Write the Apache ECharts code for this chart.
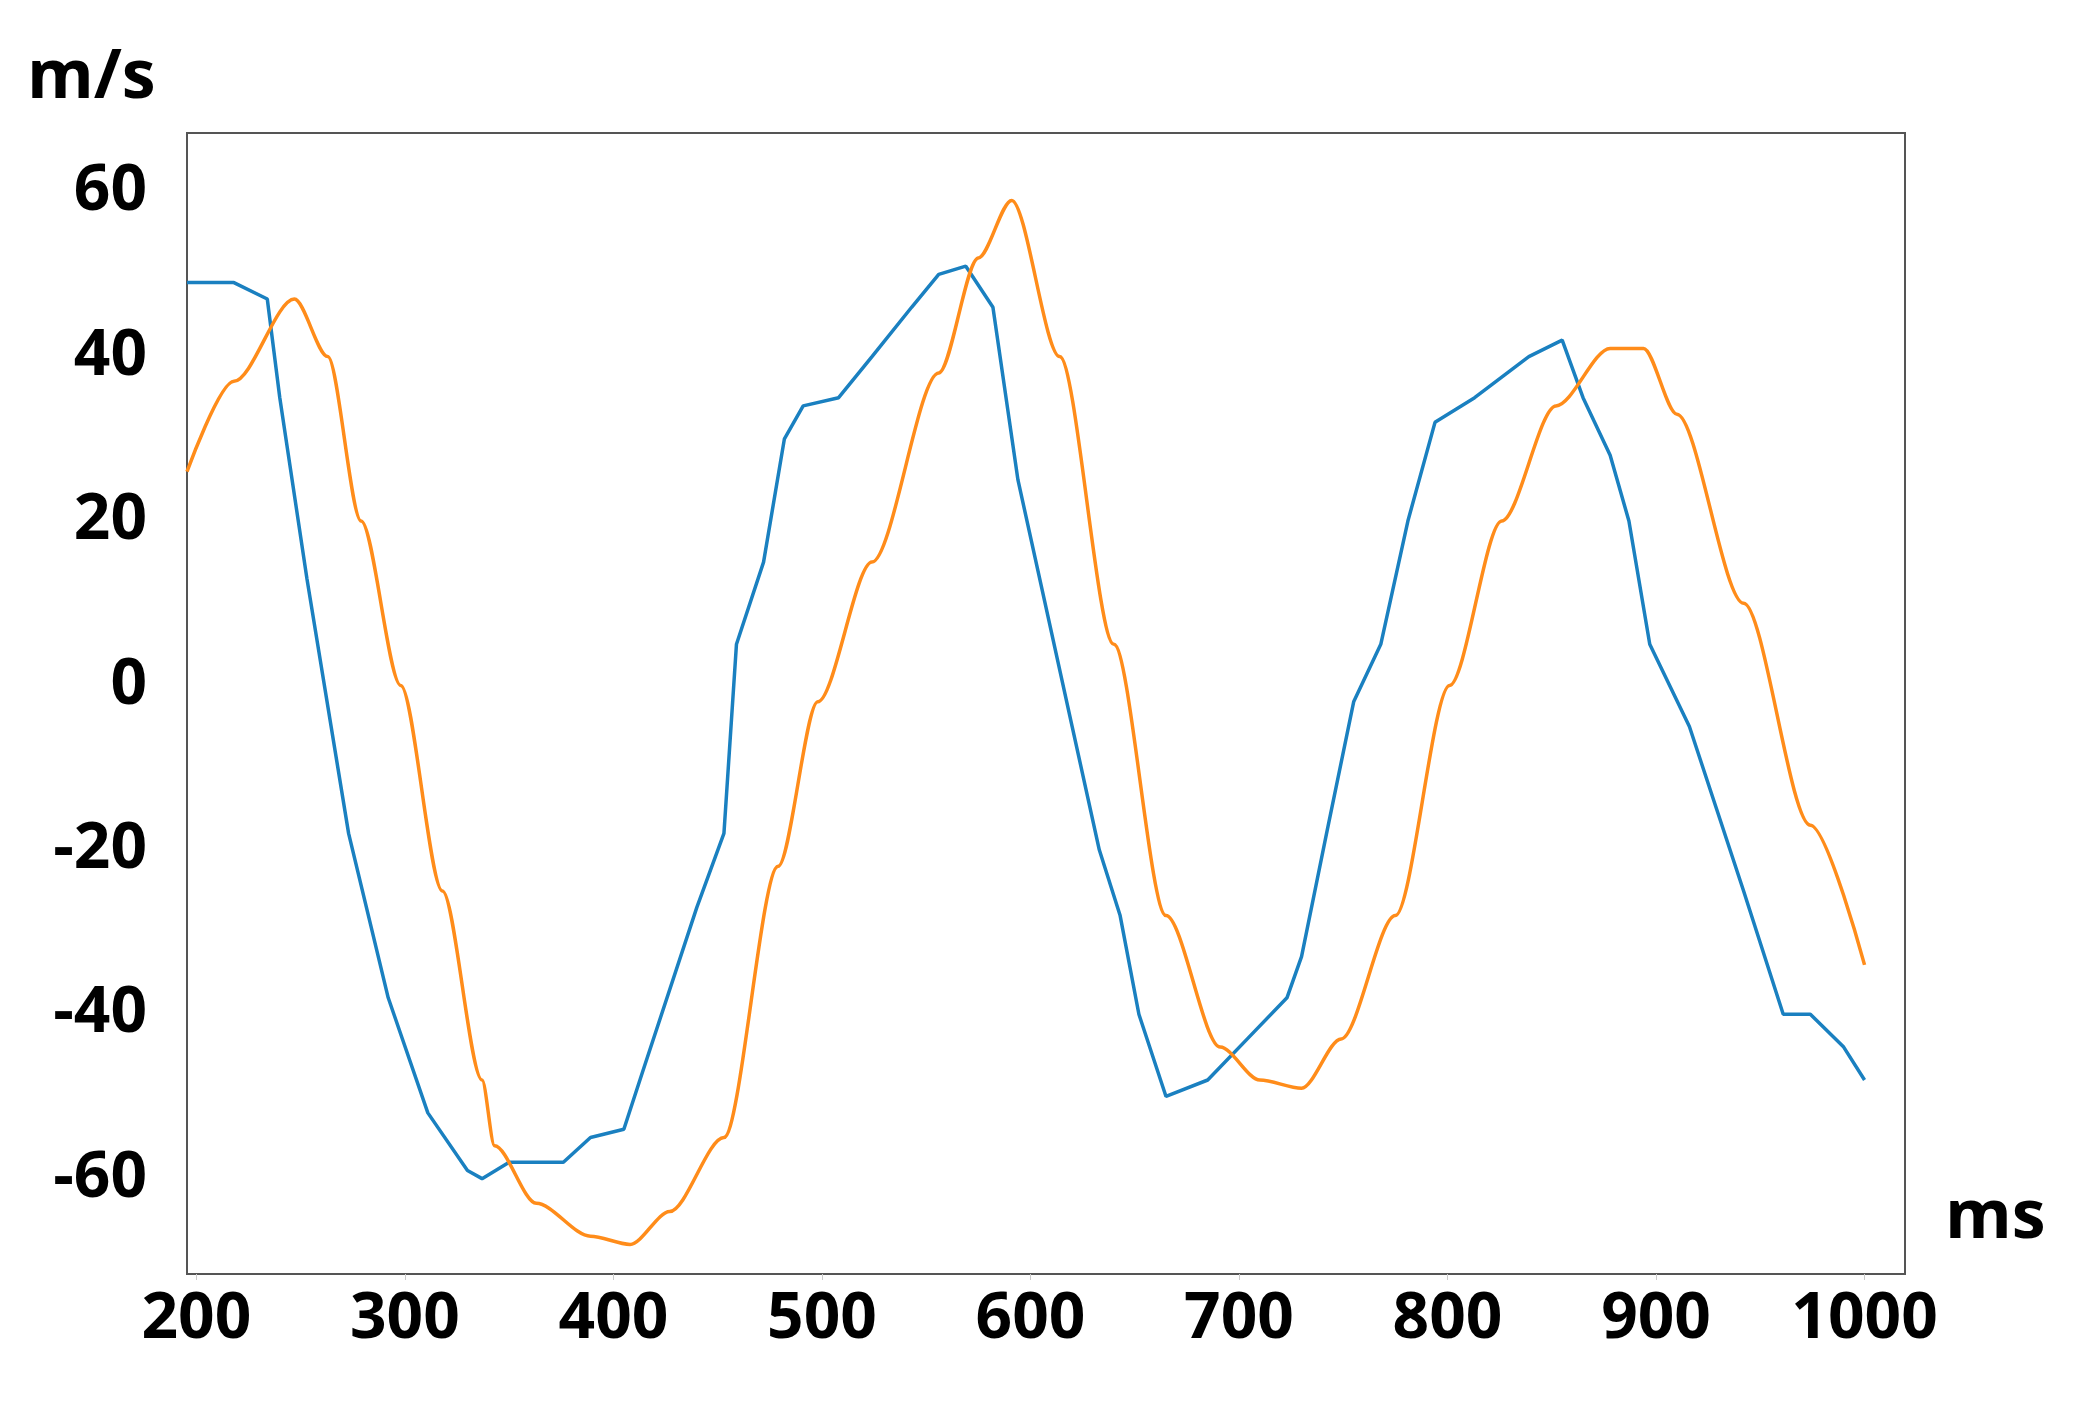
<!DOCTYPE html><html><head><meta charset="utf-8"><script src="https://cdn.jsdelivr.net/npm/echarts@6/dist/echarts.min.js"></script><style>html,body{margin:0;background:#fff}#c{width:2082px;height:1404px}</style></head><body><div id="c"></div><script>
const xTicks=[200,300,400,500,600,700,800,900,1000];
const yTicks=[-60,-40,-20,0,20,40,60];
const blueX=[195.5,218,234,240,253,273,292,311,330,337,350,376,389,405,414,440,453,459,472,482,491,508,524,543,556,569,582,594,607,620,633,643,652,665,685,704,723,730,742,755,768,781,794,813,839,855,865,878,887,897,916,929,942,961,974,990,1000];
const blueY=[49,49,47,35,13,-18,-38,-52,-59,-60,-58,-58,-55,-54,-47,-27,-18,5,15,30,34,35,40,46,50,51,46,25,10,-5,-20,-28,-40,-50,-48,-43,-38,-33,-18,-2,5,20,32,35,40,42,35,28,20,5,-5,-15,-25,-40,-40,-44,-48];
const orangeX=[195.5,218,247,263,279,298,318,337,343,363,389,408,427,453,479,498,524,556,575,591,614,640,665,691,710,730,749,775,801,826,852,878,894,910,942,974,1000];
const orangeY=[26,37,47,40,20,0,-25,-48,-56,-63,-67,-68,-64,-55,-22,-2,15,38,52,59,40,5,-28,-44,-48,-49,-43,-28,0,20,34,41,41,33,10,-17,-34];
const pair=(a,b)=>a.map((v,i)=>[v,b[i]]);
const lab={fontSize:64,fontWeight:'bold',color:'#000',fontFamily:'Open Sans'};
const c=echarts.init(document.getElementById('c'));
c.setOption({animation:false,
grid:{left:187,right:177,top:133,bottom:130,show:true,borderColor:'#555',borderWidth:2},
xAxis:{type:'value',min:195.5,max:1019.4,splitLine:{show:false},axisLine:{show:false,onZero:false},
 axisTick:{show:true,customValues:xTicks,length:6,lineStyle:{color:'#ccc'}},
 axisLabel:Object.assign({customValues:xTicks,margin:14,formatter:v=>String(v)},lab)},
yAxis:{type:'value',min:-71.6,max:67.2,splitLine:{show:false},axisLine:{show:false},
 axisTick:{show:false},axisLabel:Object.assign({customValues:yTicks,margin:40},lab)},
graphic:[{type:'text',left:27,top:45,style:Object.assign({text:'m/s',font:'bold 68px "Open Sans"'})},
{type:'text',left:1945,top:1185,style:{text:'ms',font:'bold 68px "Open Sans"'}}],
series:[{type:'line',data:pair(blueX,blueY),showSymbol:false,lineStyle:{color:'#1a80c0',width:3.5}},
{type:'line',data:pair(orangeX,orangeY),showSymbol:false,smooth:0.3,smoothMonotone:'x',lineStyle:{color:'#ff8c1a',width:3.5}}]});
</script></body></html>
